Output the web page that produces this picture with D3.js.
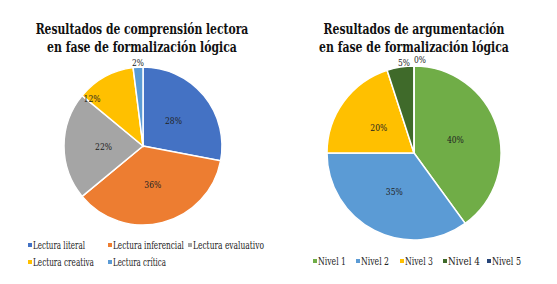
<!DOCTYPE html>
<html><head>
<meta charset="utf-8">
<script src="https://d3js.org/d3.v7.min.js"></script>
<style>
  body { margin: 0; background: #fff; }
</style>
</head>
<body>
<svg id="chart" width="557" height="284"></svg>
<script>

// left chart: comprension lectora
const lecturaCats = ["Lectura literal", "Lectura inferencial", "Lectura evaluativo", "Lectura creativa", "Lectura crítica"];
const lecturaVals = [28, 36, 22, 12, 2];
const lecturaColors = ["#4472C4", "#ED7D31", "#A5A5A5", "#FFC000", "#5B9BD5"];

// right chart: argumentacion
const nivelCats = ["Nivel 1", "Nivel 2", "Nivel 3", "Nivel 4", "Nivel 5"];
const nivelVals = [40, 35, 20, 5, 0];
const nivelColors = ["#70AD47", "#5B9BD5", "#FFC000", "#3F6A2A", "#264478"];

// only serif face that resolves here is DejaVu Serif, which is wide -> squeeze it horizontally
const serif = "DejaVu Serif";
const svg = d3.select("#chart");

// scale a text node in x so it is w pixels wide, placed at (x, y)
function squeeze(node, x, y, w) {
  const n = node.node().getComputedTextLength();
  node.attr("x", 0).attr("y", 0)
    .attr("transform", "translate(" + x + "," + y + ") scale(" + (w / n) + ",1)");
}

function drawPie(opts) {
  const g = svg.append("g").attr("transform", "translate(" + opts.cx + "," + opts.cy + ")");
  const pie = d3.pie().sort(null).value(d => d.v);
  const data = opts.cats.map((c, i) => ({ c: c, v: opts.vals[i], color: opts.colors[i] }));
  const arcs = pie(data);
  const arc = d3.arc().innerRadius(0).outerRadius(opts.r);

  g.selectAll("path").data(arcs)
    .join("path")
    .attr("d", arc)
    .attr("fill", d => d.data.color)
    .attr("stroke", "white")
    .attr("stroke-width", 1.5);

  // percent labels, halfway out unless a spot is given
  const mid = d3.arc().innerRadius(opts.r * 0.5).outerRadius(opts.r * 0.5);
  g.selectAll("text").data(arcs)
    .join("text")
    .attr("font-family", serif)
    .attr("font-size", 10)
    .attr("fill", "#222")
    .attr("text-anchor", "middle")
    .attr("dy", "0.35em")
    .text(d => d.data.v + "%")
    .each(function(d, i) {
      const p = opts.labelPos[i] ? opts.labelPos[i] : mid.centroid(d);
      squeeze(d3.select(this), p[0], p[1], d.data.v >= 10 ? 17 : 12);
    });

  // title, two lines
  opts.title.forEach((line, i) => {
    const t = svg.append("text")
      .attr("font-family", serif)
      .attr("font-weight", "bold")
      .attr("font-size", 15)
      .attr("fill", "#111")
      .attr("text-anchor", "middle")
      .text(line);
    squeeze(t, opts.titleX, 34 + i * 18, opts.titleW[i]);
  });

  // legend
  const items = svg.append("g").selectAll("g").data(data).join("g")
    .attr("transform", (d, i) => "translate(" + opts.legendPos[i][0] + "," + opts.legendPos[i][1] + ")");
  items.append("rect").attr("x", 0).attr("y", -2).attr("width", 4).attr("height", 4)
    .attr("fill", d => d.color);
  items.append("text")
    .attr("font-family", serif)
    .attr("font-size", 11)
    .attr("fill", "#222")
    .attr("dy", "0.35em")
    .text(d => d.c)
    .each(function(d, i) { squeeze(d3.select(this), 5, 0, opts.legendW[i]); });
}

drawPie({
  cx: 143, cy: 146, r: 79,
  cats: lecturaCats, vals: lecturaVals, colors: lecturaColors,
  title: ["Resultados de comprensión lectora", "en fase de formalización lógica"],
  titleX: 142, titleW: [213, 190],
  labelPos: [null, null, null, [-51, -48], [-5, -84]],
  legendPos: [[28, 245], [108, 245], [188, 245], [28, 262], [108, 262]],
  legendW: [52, 71, 71, 61, 53]
});

drawPie({
  cx: 414, cy: 153, r: 87,
  cats: nivelCats, vals: nivelVals, colors: nivelColors,
  title: ["Resultados de argumentación", "en fase de formalización lógica"],
  titleX: 414, titleW: [181, 190],
  labelPos: [null, null, null, [-10, -91], [6, -93.5]],
  legendPos: [[313, 261], [356, 261], [400, 261], [443, 261], [487, 261]],
  legendW: [28, 28, 28, 32, 29]
});

</script>
</body>
</html>
